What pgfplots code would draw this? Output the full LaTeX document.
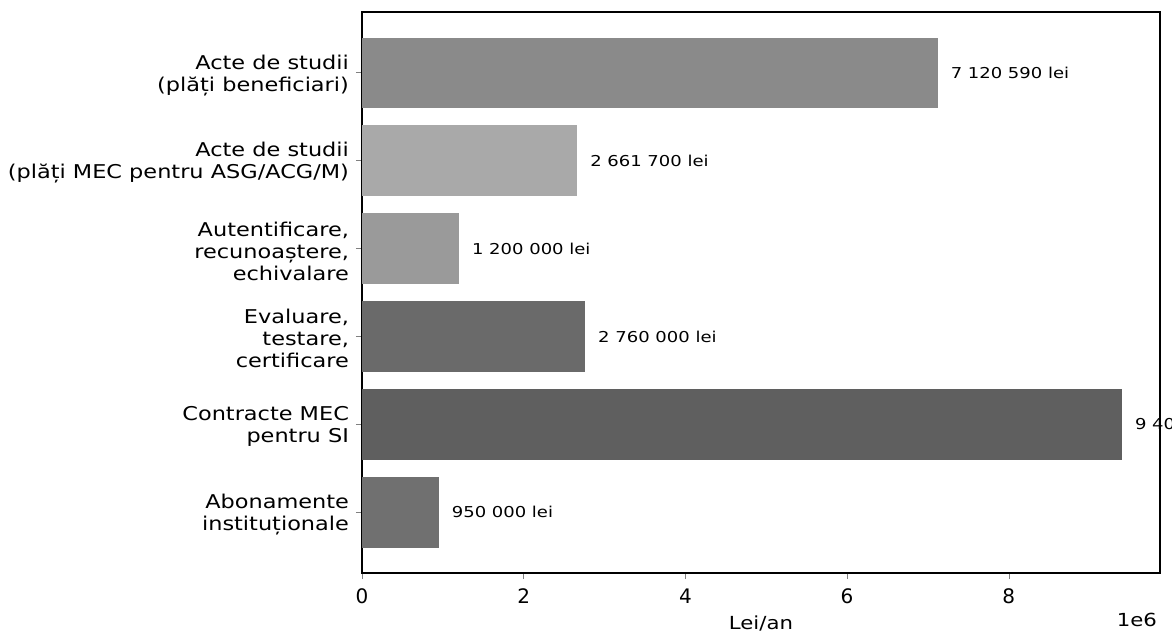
\documentclass[border=0pt]{standalone}
\usepackage{pgfplots}
\pgfplotsset{compat=1.18}
\usepackage{fontspec}
\setmainfont{DejaVu Sans}
% the scan is a little wider than the original text
\newfontfamily\widefont{DejaVu Sans}[FakeStretch=1.18]
\newfontfamily\valuefont{DejaVu Sans}[FakeStretch=1.2]

\definecolor{barA}{HTML}{8A8A8A}
\definecolor{barB}{HTML}{A9A9A9}
\definecolor{barC}{HTML}{9A9A9A}
\definecolor{barD}{HTML}{6A6A6A}
\definecolor{barE}{HTML}{5F5F5F}
\definecolor{barF}{HTML}{707070}

\begin{document}
\begin{tikzpicture}
    \begin{axis}[
        at={(0,0)}, anchor=south west,
        scale only axis,
        width=399pt, height=280.5pt,
        xbar, bar width=0.8,
        xmin=0, xmax=9.87e6,
        ymin=-0.69, ymax=5.69,
        scaled x ticks=false,
        xtick={0,2e6,4e6,6e6,8e6},
        xticklabels={0,2,4,6,8},
        ytick={0,1,2,3,4,5},
        yticklabels={
            {Abonamente\\instituționale},
            {Contracte MEC\\pentru SI},
            {Evaluare,\\testare,\\certificare},
            {Autentificare,\\recunoaștere,\\echivalare},
            {Acte de studii\\(plăți MEC pentru ASG/ACG/M)},
            {Acte de studii\\(plăți beneficiari)}
        },
        yticklabel style={align=right, yshift=-1.2pt, font=\widefont\fontsize{9.5}{11}\selectfont},
        xticklabel style={yshift=-1.5pt, font=\fontsize{10}{12}\selectfont},
        /pgf/number format/assume math mode=true,
        tick align=outside,
        major tick length=3pt,
        xtick pos=bottom, ytick pos=left,
        axis line style={line width=0.8pt},
        xlabel={Lei/an},
        xlabel style={font=\widefont\fontsize{9}{11}\selectfont, yshift=1pt},
        point meta=explicit symbolic,
        nodes near coords={\pgfplotspointmeta},
        nodes near coords style={font=\valuefont\fontsize{7.5}{9}\selectfont, anchor=west, xshift=3pt},
        clip=false,
    ]
    % one plot per bar so each can keep its own grey
    \addplot[fill=barA, draw=none, bar shift=0pt] coordinates {(7120590,5) [7 120 590 lei]};
    \addplot[fill=barB, draw=none, bar shift=0pt] coordinates {(2661700,4) [2 661 700 lei]};
    \addplot[fill=barC, draw=none, bar shift=0pt] coordinates {(1200000,3) [1 200 000 lei]};
    \addplot[fill=barD, draw=none, bar shift=0pt] coordinates {(2760000,2) [2 760 000 lei]};
    \addplot[fill=barE, draw=none, bar shift=0pt] coordinates {(9400000,1) [9 400 000 lei]};
    \addplot[fill=barF, draw=none, bar shift=0pt] coordinates {(950000,0) [950 000 lei]};
    \end{axis}
    \node[font=\widefont\fontsize{9}{11}\selectfont, anchor=east] at (401pt,-23.5pt) {1e6};
    \pgfresetboundingbox
    \useasboundingbox (-181pt,-30.5pt) rectangle (405pt,286.5pt);
\end{tikzpicture}
\end{document}
